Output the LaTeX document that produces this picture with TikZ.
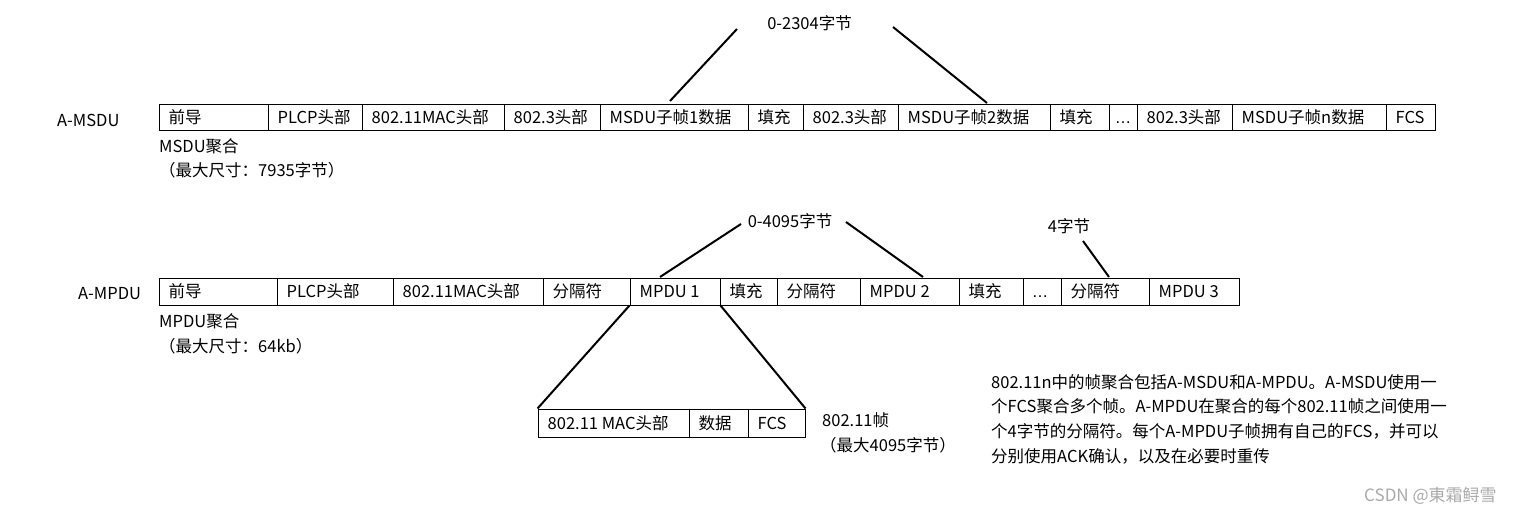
\documentclass[tikz,border=0pt]{standalone}
\usepackage{fontspec}
\setmainfont{Noto Sans CJK SC}
\newfontfamily\latinfont{Liberation Sans}
\definecolor{wm}{RGB}{170,170,170}
\tikzset{
  txt/.style={font=\fontsize{16.5pt}{19.5pt}\selectfont, inner sep=0pt, text height=14.4pt, text depth=2.1pt},
  cellbox/.style={draw, line width=1pt, inner sep=0pt},
  conn/.style={line width=2pt},
}
\newcommand\mycell[6]{%
  \node[cellbox, minimum width={(#3-#2)*1pt}, minimum height={(#5-#4)*1pt}] (#1) at ({(#2+#3)/2},{(#4+#5)/2}) {};
  \node[txt, anchor=west] (#1t) at ({#2+9.5},{(#4+#5)/2}) {#6};
}
\begin{document}
\begin{tikzpicture}[x=1pt,y=-1pt]
\fill[white] (0,0) rectangle (1514,506);
\useasboundingbox (0,0) rectangle (1514,506);

% A-MSDU row
\node[txt, anchor=west] (amsdu) at (57,120) {A-MSDU};
\def\ta{104}\def\ba{130}
\mycell{m1}{159}{268}{\ta}{\ba}{前导}
\mycell{m2}{268}{362}{\ta}{\ba}{PLCP头部}
\mycell{m3}{362}{504}{\ta}{\ba}{802.11MAC头部}
\mycell{m4}{504}{600}{\ta}{\ba}{802.3头部}
\mycell{m5}{600}{748}{\ta}{\ba}{MSDU子帧1数据}
\mycell{m6}{748}{803}{\ta}{\ba}{填充}
\mycell{m7}{803}{898}{\ta}{\ba}{802.3头部}
\mycell{m8}{898}{1050}{\ta}{\ba}{MSDU子帧2数据}
\mycell{m9}{1050}{1109}{\ta}{\ba}{填充}
\node[cellbox, minimum width=28pt, minimum height=26pt] (m10) at (1123,117) {};
\node[txt, anchor=center] (m10t) at (1123,117) {\latinfont …};
\mycell{m11}{1137}{1232}{\ta}{\ba}{802.3头部}
\mycell{m12}{1232}{1386}{\ta}{\ba}{MSDU子帧n数据}
\mycell{m13}{1386}{1435}{\ta}{\ba}{FCS}
\node[txt, anchor=west] (msduagg) at (159,146) {MSDU聚合};
\node[txt, anchor=west] (msdumax) at (159,170) {（最大尺寸：7935字节）};

\node[txt] (l2304) at (809.5,23) {0-2304字节};
\coordinate (a1) at (737,29);
\coordinate (a2) at (670,101);
\coordinate (a3) at (893,27);
\coordinate (a4) at (987,103);
\draw[conn] (a1) -- (a2);
\draw[conn] (a3) -- (a4);

% A-MPDU row
\node[txt, anchor=west] (ampdu) at (78,293) {A-MPDU};
\def\tb{278}\def\bb{305}
\mycell{p1}{159}{277}{\tb}{\bb}{前导}
\mycell{p2}{277}{393}{\tb}{\bb}{PLCP头部}
\mycell{p3}{393}{543}{\tb}{\bb}{802.11MAC头部}
\mycell{p4}{543}{630}{\tb}{\bb}{分隔符}
\mycell{p5}{630}{720}{\tb}{\bb}{MPDU 1}
\mycell{p6}{720}{777}{\tb}{\bb}{填充}
\mycell{p7}{777}{860}{\tb}{\bb}{分隔符}
\mycell{p8}{860}{959}{\tb}{\bb}{MPDU 2}
\mycell{p9}{959}{1023}{\tb}{\bb}{填充}
\node[cellbox, minimum width=38pt, minimum height=27pt] (p10) at (1042,291.5) {};
\node[txt, anchor=center] (p10t) at (1040,291.5) {\latinfont …};
\mycell{p11}{1061}{1149}{\tb}{\bb}{分隔符}
\mycell{p12}{1149}{1239}{\tb}{\bb}{MPDU 3}
\node[txt, anchor=west] (mpduagg) at (159,321) {MPDU聚合};
\node[txt, anchor=west] (mpdumax) at (159,346) {（最大尺寸：64kb）};

\node[txt] (l4095) at (790,221) {0-4095字节};
\node[txt] (l4) at (1069,226) {4字节};
\coordinate (b1) at (741,224);
\coordinate (b2) at (660,277);
\coordinate (b3) at (846,222);
\coordinate (b4) at (923,277);
\coordinate (b5) at (1083,241);
\coordinate (b6) at (1109,277);
\draw[conn] (b1) -- (b2);
\draw[conn] (b3) -- (b4);
\draw[conn] (b5) -- (b6);

% 802.11 frame
\def\tc{409}\def\bc{437}
\mycell{f1}{538}{689}{\tc}{\bc}{802.11 MAC头部}
\mycell{f2}{689}{748}{\tc}{\bc}{数据}
\mycell{f3}{748}{805}{\tc}{\bc}{FCS}
\draw[conn] (p5.south west) -- (f1.north west);
\draw[conn] (p5.south east) -- (f3.north east);
\node[txt, anchor=west] (fr) at (822,420) {802.11帧};
\node[txt, anchor=west] (frmax) at (820,445) {（最大4095字节）};

% paragraph
\node[txt, anchor=west] (q1) at (991,382) {802.11n中的帧聚合包括A-MSDU和A-MPDU。A-MSDU使用一};
\node[txt, anchor=west] (q2) at (991,406.5) {个FCS聚合多个帧。A-MPDU在聚合的每个802.11帧之间使用一};
\node[txt, anchor=west] (q3) at (991,431) {个4字节的分隔符。每个A-MPDU子帧拥有自己的FCS，并可以};
\node[txt, anchor=west] (q4) at (991,456) {分别使用ACK确认，以及在必要时重传};

\node[txt, anchor=west, text=wm, font=\fontsize{17pt}{20pt}\selectfont] (wmk) at (1364,495) {CSDN @東霜鲟雪};
\end{tikzpicture}
\end{document}
